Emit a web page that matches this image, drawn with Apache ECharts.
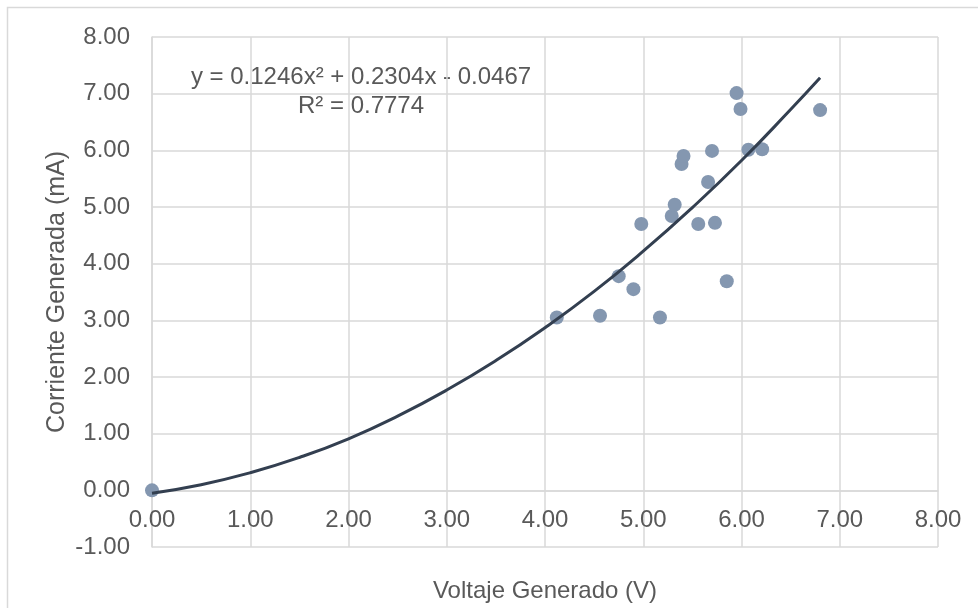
<!DOCTYPE html>
<html style="height: 100%">
<head>
  <meta charset="UTF-8">
  <title>Corriente vs Voltaje</title>
  <script src="https://cdn.jsdelivr.net/npm/echarts@6/dist/echarts.min.js"></script>
</head>
<body style="height: 100%; margin: 0; background: #fff">
<div id="main" style="width: 978px; height: 608px"></div>

<script>
  // measured points (V, mA)
  const voltage = [0.00, 4.12, 4.56, 4.75, 4.90, 4.98, 5.17, 5.29, 5.32, 5.39, 5.41,
                   5.56, 5.66, 5.70, 5.73, 5.85, 5.95, 5.99, 6.07, 6.21, 6.80];
  const current = [0.00, 3.05, 3.08, 3.78, 3.55, 4.70, 3.05, 4.84, 5.04, 5.76, 5.90,
                   4.70, 5.44, 5.99, 4.72, 3.69, 7.01, 6.73, 6.01, 6.02, 6.71];

  // trendline
  const trendX = [0, 0.5, 1, 1.5, 2, 2.5, 3, 3.5, 4, 4.5, 5, 5.5, 6, 6.5, 6.8];
  const trendY = [-0.05, 0.10, 0.31, 0.58, 0.91, 1.31, 1.77, 2.29, 2.87, 3.51, 4.22, 4.99, 5.82, 6.72, 7.28];

  const equationText = 'y = 0.1246x² + 0.2304x - 0.0467';
  const r2Text = 'R² = 0.7774';

  const font = 'Liberation Sans, Arial, sans-serif';
  const textColor = '#595959';
  const gridColor = '#d9d9d9';

  // plot area, px
  const gridTop = 37, gridBottom = 61, chartH = 608;
  const yMin = -1, yMax = 8;
  // the x axis sits on y = 0, so lift it from the bottom edge by one unit
  const unitPx = (chartH - gridTop - gridBottom) / (yMax - yMin);

  let chart = echarts.init(document.getElementById('main'));
  chart.setOption({
    backgroundColor: '#fff',
    animation: false,
    textStyle: { fontFamily: font },
    grid: { left: 152, right: 40, top: gridTop, bottom: gridBottom, containLabel: false, outerBoundsMode: 'none' },
    xAxis: {
      type: 'value',
      position: 'bottom',
      offset: -(0 - yMin) * unitPx,
      min: 0,
      max: 8,
      interval: 1,
      name: 'Voltaje Generado (V)',
      nameLocation: 'middle',
      nameGap: 89,
      nameMoveOverlap: false,
      nameTextStyle: { color: textColor, fontSize: 24, fontFamily: font },
      axisLine: { onZero: false, lineStyle: { color: gridColor, width: 1.5 } },
      axisTick: { show: false },
      axisLabel: {
        color: textColor, fontSize: 24, fontFamily: font, margin: 18,
        formatter: v => v.toFixed(2)
      },
      splitLine: { show: true, lineStyle: { color: gridColor, width: 1.5 } }
    },
    yAxis: {
      type: 'value',
      min: yMin,
      max: yMax,
      interval: 1,
      name: 'Corriente Generada (mA)',
      nameLocation: 'middle',
      nameGap: 82,
      nameMoveOverlap: false,
      nameTextStyle: { color: textColor, fontSize: 25, fontFamily: font },
      axisLine: { show: true, onZero: false, lineStyle: { color: gridColor, width: 1.5 } },
      axisTick: { show: false },
      axisLabel: {
        color: textColor, fontSize: 24, fontFamily: font, margin: 22,
        formatter: v => v.toFixed(2)
      },
      splitLine: { show: true, lineStyle: { color: gridColor, width: 1.5 } }
    },
    graphic: [
      {
        type: 'rect',
        shape: { x: 7.5, y: 7.5, width: 980, height: 610 },
        style: { fill: 'none', stroke: gridColor, lineWidth: 1.5 },
        silent: true
      },
      {
        type: 'text', x: 361, y: 77,
        style: { text: equationText, fill: textColor, font: '24px ' + font, textAlign: 'center', textVerticalAlign: 'middle' }
      },
      {
        type: 'text', x: 361, y: 106,
        style: { text: r2Text, fill: textColor, font: '24px ' + font, textAlign: 'center', textVerticalAlign: 'middle' }
      }
    ],
    series: [
      {
        name: 'Datos',
        type: 'scatter',
        symbol: 'circle',
        symbolSize: 14,
        itemStyle: { color: '#8497b0', opacity: 1 },
        data: voltage.map((v, i) => [v, current[i]]),
        z: 2
      },
      {
        name: 'Tendencia',
        type: 'line',
        smooth: true,
        showSymbol: false,
        lineStyle: { color: '#333f50', width: 3 },
        data: trendX.map((v, i) => [v, trendY[i]]),
        z: 3
      }
    ]
  });
</script>
</body>
</html>
